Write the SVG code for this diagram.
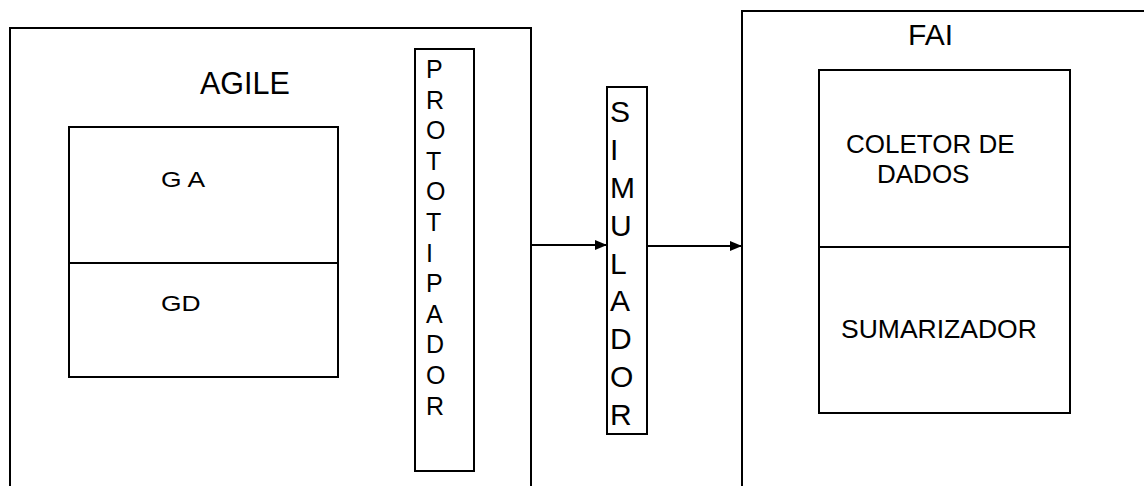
<svg xmlns="http://www.w3.org/2000/svg" width="1144" height="486" viewBox="0 0 1144 486">
  <style>
    .box { fill: none; stroke: #000; stroke-width: 2; }
    .line { fill: none; stroke: #000; stroke-width: 2; }
    .lbl { font-family: "Liberation Sans", Arial, sans-serif; fill: #000; }
    .conn { stroke: #000; stroke-width: 2; fill: none; marker-end: url(#arrow); }
  </style>
  <defs>
    <marker id="arrow" viewBox="0 0 12 10" refX="12" refY="5" markerWidth="12" markerHeight="10" markerUnits="userSpaceOnUse" orient="auto">
      <path d="M0,0 L12,5 L0,10 Z" fill="#000"/>
    </marker>
  </defs>
  <rect width="1144" height="486" fill="#fff"/>

  <!-- AGILE container (runs off the bottom edge) -->
  <g id="agile">
    <rect class="box" x="10" y="28" width="521" height="480"/>
    <text class="lbl" x="200" y="94" font-size="30.5">AGILE</text>
  </g>

  <!-- GA / GD split block -->
  <g id="ga-gd">
    <rect class="box" x="69" y="127" width="269" height="250"/>
    <line class="line" x1="69" y1="263" x2="338" y2="263"/>
    <text class="lbl" font-size="22" transform="translate(161,187) scale(1.2,1)">G A</text>
    <text class="lbl" font-size="22" transform="translate(161,311) scale(1.2,1)">GD</text>
  </g>

  <!-- PROTOTIPADOR vertical block -->
  <g id="prototipador">
    <rect class="box" x="415" y="49" width="59" height="422"/>
    <text class="lbl" font-size="25">
      <tspan x="426" y="78">P</tspan>
      <tspan x="426" y="108.6">R</tspan>
      <tspan x="426" y="139.2">O</tspan>
      <tspan x="426" y="169.8">T</tspan>
      <tspan x="426" y="200.4">O</tspan>
      <tspan x="426" y="231">T</tspan>
      <tspan x="426" y="261.6">I</tspan>
      <tspan x="426" y="292.2">P</tspan>
      <tspan x="426" y="322.8">A</tspan>
      <tspan x="426" y="353.4">D</tspan>
      <tspan x="426" y="384">O</tspan>
      <tspan x="426" y="414.6">R</tspan>
    </text>
  </g>

  <!-- SIMULADOR vertical block -->
  <g id="simulador">
    <rect class="box" x="607" y="87" width="40" height="347"/>
    <text class="lbl" font-size="30">
      <tspan x="610" y="122">S</tspan>
      <tspan x="610" y="160">I</tspan>
      <tspan x="610" y="198">M</tspan>
      <tspan x="610" y="236">U</tspan>
      <tspan x="610" y="274">L</tspan>
      <tspan x="610" y="311">A</tspan>
      <tspan x="610" y="349">D</tspan>
      <tspan x="610" y="387">O</tspan>
      <tspan x="610" y="425">R</tspan>
    </text>
  </g>

  <!-- FAI container (runs off the right and bottom edges) -->
  <g id="fai">
    <rect class="box" x="742" y="11" width="500" height="500"/>
    <text class="lbl" x="908" y="45" font-size="30">FAI</text>
  </g>

  <!-- Coletor de dados / Sumarizador split block -->
  <g id="coletor-sumarizador">
    <rect class="box" x="819" y="70" width="251" height="343"/>
    <line class="line" x1="819" y1="247" x2="1070" y2="247"/>
    <text class="lbl" font-size="26">
      <tspan x="846" y="153">COLETOR DE</tspan>
      <tspan x="877" y="183">DADOS</tspan>
    </text>
    <text class="lbl" x="841" y="338" font-size="26.5">SUMARIZADOR</text>
  </g>

  <!-- connectors -->
  <g id="connectors">
    <line class="conn" x1="532" y1="245" x2="607" y2="245"/>
    <line class="conn" x1="647" y1="246" x2="742" y2="246"/>
  </g>
</svg>
